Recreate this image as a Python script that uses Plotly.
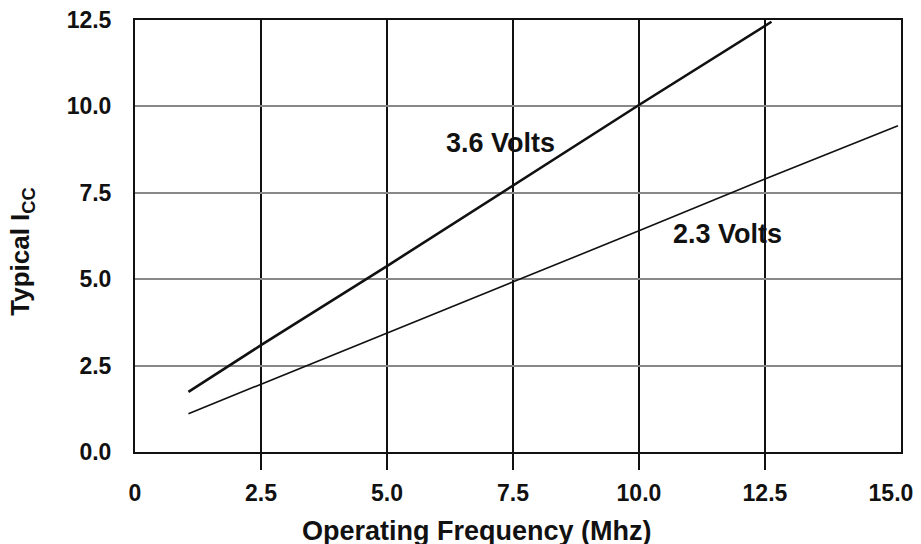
import plotly.graph_objects as go

# Data
freq_36 = [1.06, 2.5, 5.0, 7.5, 10.0, 12.63]
icc_36 = [1.74, 3.09, 5.38, 7.70, 10.04, 12.45]

freq_23 = [1.06, 2.5, 5.0, 7.5, 10.0, 12.5, 15.14]
icc_23 = [1.11, 1.96, 3.45, 4.92, 6.40, 7.90, 9.44]

x_tick_vals = [0, 2.5, 5.0, 7.5, 10.0, 12.5, 15.0]
x_tick_text = ["0", "2.5", "5.0", "7.5", "10.0", "12.5", "15.0"]
x_grid_vals = [2.5, 5.0, 7.5, 10.0, 12.5]
y_tick_vals = [0, 2.5, 5.0, 7.5, 10.0, 12.5]
y_tick_text = ["0.0", "2.5", "5.0", "7.5", "10.0", "12.5"]

FONT = "Liberation Sans, Arial, Helvetica, sans-serif"
TICKFONT = dict(family=FONT, size=23, color="#111111", weight="bold")

# the page body adds an 8px offset, so the figure is 8px smaller than the window
W, H = 913, 536
M = dict(l=127, r=20, t=12, b=74)
area_h = H - M["t"] - M["b"]
TICK_LEN_PX = 18
strip = TICK_LEN_PX / area_h  # thin strip below the plot that holds the tick marks

fig = go.Figure()
fig.add_trace(go.Scatter(x=freq_36, y=icc_36, mode="lines",
                         line=dict(color="#111111", width=2.6),
                         name="3.6 Volts", hoverinfo="x+y"))
fig.add_trace(go.Scatter(x=freq_23, y=icc_23, mode="lines",
                         line=dict(color="#111111", width=1.6),
                         name="2.3 Volts", hoverinfo="x+y"))
# empty trace so the tick-mark strip subplot exists
fig.add_trace(go.Scatter(x=[], y=[], xaxis="x2", yaxis="y2", showlegend=False,
                         hoverinfo="skip"))

fig.update_layout(
    width=W, height=H,
    margin=dict(**M, autoexpand=False),
    paper_bgcolor="white", plot_bgcolor="white",
    showlegend=False,
    dragmode=False,
    xaxis=dict(
        range=[0, 15.2], fixedrange=True, anchor="y",
        tickmode="array", tickvals=x_tick_vals, ticktext=x_tick_text,
        showgrid=False, zeroline=False, ticks="",
        ticklabelstandoff=19, automargin=False, ticklabeloverflow="allow",
        showline=True, linecolor="#111111", linewidth=2, mirror=True,
        tickfont=TICKFONT,
        minor=dict(tickmode="array", tickvals=x_grid_vals, ticks="",
                   showgrid=True, gridcolor="#111111", gridwidth=2),
    ),
    yaxis=dict(
        domain=[strip, 1], anchor="x",
        range=[0, 12.5], fixedrange=True,
        tickmode="array", tickvals=y_tick_vals, ticktext=y_tick_text,
        showgrid=True, gridcolor="#888888", gridwidth=1.6, zeroline=False,
        ticks="", ticklabelstandoff=17, automargin=False, ticklabeloverflow="allow",
        showline=True, linecolor="#111111", linewidth=2, mirror=True,
        tickfont=TICKFONT,
    ),
    xaxis2=dict(
        range=[0, 15.2], fixedrange=True, anchor="y2", matches="x",
        tickmode="array", tickvals=x_grid_vals, showticklabels=False, ticks="",
        showgrid=True, gridcolor="#111111", gridwidth=2,
        zeroline=False, showline=False, automargin=False,
    ),
    yaxis2=dict(
        domain=[0, strip], anchor="x2", range=[0, 1], fixedrange=True,
        showgrid=False, zeroline=False, showline=False, showticklabels=False,
        ticks="", automargin=False,
    ),
    annotations=[
        dict(text="Operating Frequency (Mhz)", xref="paper", yref="paper",
             x=0.447, y=-0.135, xanchor="center", yanchor="middle", showarrow=False,
             font=dict(family=FONT, size=27, color="#111111", weight="bold")),
        dict(text="Typical I<sub>CC</sub>", xref="paper", yref="paper",
             x=-0.1475, y=0.485, xanchor="center", yanchor="middle", textangle=-90,
             showarrow=False,
             font=dict(family=FONT, size=26, color="#111111", weight="bold")),
        dict(text="3.6 Volts", xref="x", yref="y", x=7.26, y=8.94,
             xanchor="center", yanchor="middle", showarrow=False,
             font=dict(family=FONT, size=27, color="#111111", weight="bold")),
        dict(text="2.3 Volts", xref="x", yref="y", x=11.76, y=6.30,
             xanchor="center", yanchor="middle", showarrow=False,
             font=dict(family=FONT, size=27, color="#111111", weight="bold")),
    ],
)

fig.write_html("out.html")
